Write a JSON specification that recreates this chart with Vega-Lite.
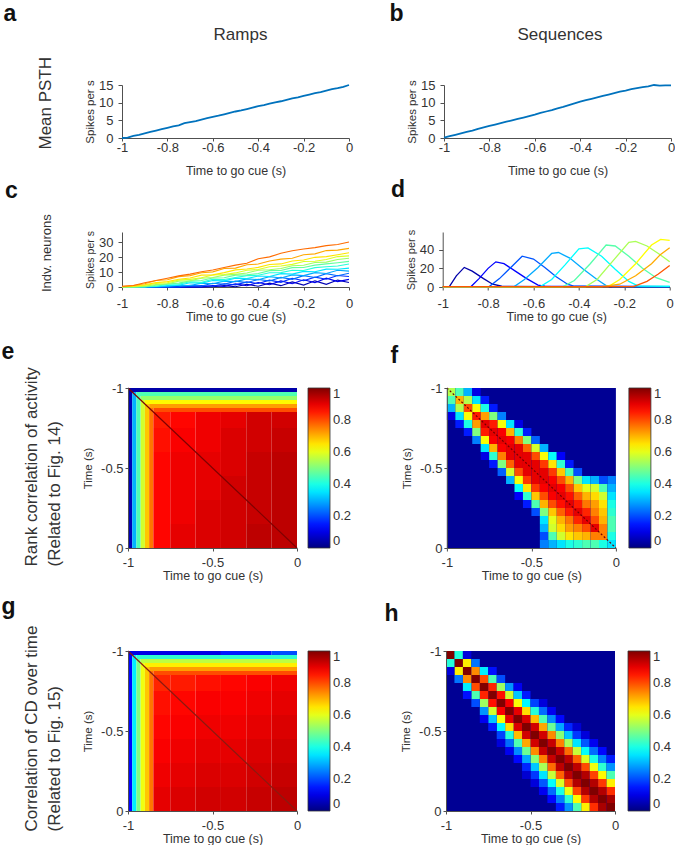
{
"$schema":"https://vega.github.io/schema/vega-lite/v6.json",
"background":"white",
"padding":{"left":1,"top":3,"right":0,"bottom":0},
"config":{"font":"Liberation Sans","view":{"stroke":null},
"axis":{"grid":false,"domainColor":"#505050","tickColor":"#505050","labelColor":"#333","titleColor":"#333","labelFontSize":13,"titleFontSize":12.5,"titleFontWeight":"normal","labelFlush":false,"labelOverlap":false,"labelFont":"Liberation Sans","titleFont":"Liberation Sans"},
"axisY":{"titleFontSize":11.5},
"title":{"font":"Liberation Sans","color":"#333","fontWeight":"normal"}},
"datasets":{
"pa":[{"t":-1,"v":0},{"t":-0.975,"v":0.1},{"t":-0.95,"v":0.6},{"t":-0.925,"v":0.9},{"t":-0.9,"v":1.3},{"t":-0.875,"v":1.7},{"t":-0.85,"v":2.1},{"t":-0.825,"v":2.5},{"t":-0.8,"v":2.9},{"t":-0.775,"v":3.3},{"t":-0.75,"v":3.6},{"t":-0.725,"v":4.2},{"t":-0.7,"v":4.5},{"t":-0.675,"v":4.8},{"t":-0.65,"v":5.2},{"t":-0.625,"v":5.6},{"t":-0.6,"v":6.0},{"t":-0.575,"v":6.3},{"t":-0.55,"v":6.7},{"t":-0.525,"v":7.1},{"t":-0.5,"v":7.5},{"t":-0.475,"v":7.8},{"t":-0.45,"v":8.2},{"t":-0.425,"v":8.6},{"t":-0.4,"v":9.0},{"t":-0.375,"v":9.3},{"t":-0.35,"v":9.7},{"t":-0.325,"v":10.1},{"t":-0.3,"v":10.4},{"t":-0.275,"v":10.8},{"t":-0.25,"v":11.2},{"t":-0.225,"v":11.5},{"t":-0.2,"v":11.9},{"t":-0.175,"v":12.3},{"t":-0.15,"v":12.7},{"t":-0.125,"v":13.0},{"t":-0.1,"v":13.4},{"t":-0.075,"v":13.8},{"t":-0.05,"v":14.1},{"t":-0.025,"v":14.5},{"t":0,"v":15.0}],
"pb":[{"t":-1,"v":0.1},{"t":-0.975,"v":0.5},{"t":-0.95,"v":0.9},{"t":-0.925,"v":1.3},{"t":-0.9,"v":1.7},{"t":-0.875,"v":2.1},{"t":-0.85,"v":2.6},{"t":-0.825,"v":3.0},{"t":-0.8,"v":3.4},{"t":-0.775,"v":3.8},{"t":-0.75,"v":4.2},{"t":-0.725,"v":4.6},{"t":-0.7,"v":5.0},{"t":-0.675,"v":5.4},{"t":-0.65,"v":5.8},{"t":-0.625,"v":6.2},{"t":-0.6,"v":6.6},{"t":-0.575,"v":7.1},{"t":-0.55,"v":7.5},{"t":-0.525,"v":7.9},{"t":-0.5,"v":8.4},{"t":-0.475,"v":8.8},{"t":-0.45,"v":9.3},{"t":-0.425,"v":9.8},{"t":-0.4,"v":10.3},{"t":-0.375,"v":10.7},{"t":-0.35,"v":11.1},{"t":-0.325,"v":11.5},{"t":-0.3,"v":11.9},{"t":-0.275,"v":12.3},{"t":-0.25,"v":12.7},{"t":-0.225,"v":13.1},{"t":-0.2,"v":13.4},{"t":-0.175,"v":13.8},{"t":-0.15,"v":14.1},{"t":-0.125,"v":14.4},{"t":-0.1,"v":14.6},{"t":-0.075,"v":15.0},{"t":-0.05,"v":14.8},{"t":-0.025,"v":14.9},{"t":0,"v":14.9}],
"pc":[
{"n":0,"t":-1,"v":0},{"n":0,"t":-0.95,"v":0},{"n":0,"t":-0.9,"v":0.1},{"n":0,"t":-0.85,"v":0},{"n":0,"t":-0.8,"v":0},{"n":0,"t":-0.75,"v":0.2},{"n":0,"t":-0.7,"v":0},{"n":0,"t":-0.65,"v":0.1},{"n":0,"t":-0.6,"v":0.2},{"n":0,"t":-0.55,"v":0.9},{"n":0,"t":-0.5,"v":0.2},{"n":0,"t":-0.45,"v":1.8},{"n":0,"t":-0.4,"v":0.5},{"n":0,"t":-0.35,"v":2.6},{"n":0,"t":-0.3,"v":0.9},{"n":0,"t":-0.25,"v":3.4},{"n":0,"t":-0.2,"v":1.3},{"n":0,"t":-0.15,"v":4.1},{"n":0,"t":-0.1,"v":1.8},{"n":0,"t":-0.05,"v":4.6},{"n":0,"t":0,"v":3.0},
{"n":1,"t":-1,"v":0},{"n":1,"t":-0.95,"v":0.1},{"n":1,"t":-0.9,"v":0},{"n":1,"t":-0.85,"v":0},{"n":1,"t":-0.8,"v":0.2},{"n":1,"t":-0.75,"v":0},{"n":1,"t":-0.7,"v":0.1},{"n":1,"t":-0.65,"v":0},{"n":1,"t":-0.6,"v":1.0},{"n":1,"t":-0.55,"v":0.3},{"n":1,"t":-0.5,"v":2.1},{"n":1,"t":-0.45,"v":0.8},{"n":1,"t":-0.4,"v":3.0},{"n":1,"t":-0.35,"v":1.5},{"n":1,"t":-0.3,"v":4.1},{"n":1,"t":-0.25,"v":2.2},{"n":1,"t":-0.2,"v":4.8},{"n":1,"t":-0.15,"v":2.9},{"n":1,"t":-0.1,"v":5.9},{"n":1,"t":-0.05,"v":3.6},{"n":1,"t":0,"v":5.1},
{"n":2,"t":-1,"v":0},{"n":2,"t":-0.95,"v":0},{"n":2,"t":-0.9,"v":0.2},{"n":2,"t":-0.85,"v":0},{"n":2,"t":-0.8,"v":0.1},{"n":2,"t":-0.75,"v":0},{"n":2,"t":-0.7,"v":0.3},{"n":2,"t":-0.65,"v":1.0},{"n":2,"t":-0.6,"v":0.5},{"n":2,"t":-0.55,"v":2.2},{"n":2,"t":-0.5,"v":1.4},{"n":2,"t":-0.45,"v":3.4},{"n":2,"t":-0.4,"v":2.3},{"n":2,"t":-0.35,"v":4.6},{"n":2,"t":-0.3,"v":3.1},{"n":2,"t":-0.25,"v":5.8},{"n":2,"t":-0.2,"v":4.2},{"n":2,"t":-0.15,"v":6.6},{"n":2,"t":-0.1,"v":5.2},{"n":2,"t":-0.05,"v":7.7},{"n":2,"t":0,"v":7.0},
{"n":3,"t":-1,"v":0},{"n":3,"t":-0.95,"v":0.1},{"n":3,"t":-0.9,"v":0},{"n":3,"t":-0.85,"v":0.3},{"n":3,"t":-0.8,"v":0},{"n":3,"t":-0.75,"v":0.2},{"n":3,"t":-0.7,"v":1.1},{"n":3,"t":-0.65,"v":0.7},{"n":3,"t":-0.6,"v":2.5},{"n":3,"t":-0.55,"v":1.8},{"n":3,"t":-0.5,"v":3.9},{"n":3,"t":-0.45,"v":2.9},{"n":3,"t":-0.4,"v":5.1},{"n":3,"t":-0.35,"v":4.0},{"n":3,"t":-0.3,"v":6.4},{"n":3,"t":-0.25,"v":5.1},{"n":3,"t":-0.2,"v":7.6},{"n":3,"t":-0.15,"v":6.3},{"n":3,"t":-0.1,"v":8.9},{"n":3,"t":-0.05,"v":7.5},{"n":3,"t":0,"v":9.2},
{"n":4,"t":-1,"v":0},{"n":4,"t":-0.95,"v":0},{"n":4,"t":-0.9,"v":0.2},{"n":4,"t":-0.85,"v":0},{"n":4,"t":-0.8,"v":0.3},{"n":4,"t":-0.75,"v":1.2},{"n":4,"t":-0.7,"v":1.0},{"n":4,"t":-0.65,"v":2.6},{"n":4,"t":-0.6,"v":2.2},{"n":4,"t":-0.55,"v":3.9},{"n":4,"t":-0.5,"v":3.6},{"n":4,"t":-0.45,"v":5.4},{"n":4,"t":-0.4,"v":4.9},{"n":4,"t":-0.35,"v":6.9},{"n":4,"t":-0.3,"v":6.0},{"n":4,"t":-0.25,"v":8.1},{"n":4,"t":-0.2,"v":7.6},{"n":4,"t":-0.15,"v":9.6},{"n":4,"t":-0.1,"v":9.0},{"n":4,"t":-0.05,"v":11.2},{"n":4,"t":0,"v":10.6},
{"n":5,"t":-1,"v":0},{"n":5,"t":-0.95,"v":0.2},{"n":5,"t":-0.9,"v":0},{"n":5,"t":-0.85,"v":0.3},{"n":5,"t":-0.8,"v":0.9},{"n":5,"t":-0.75,"v":1.2},{"n":5,"t":-0.7,"v":2.8},{"n":5,"t":-0.65,"v":2.6},{"n":5,"t":-0.6,"v":4.3},{"n":5,"t":-0.55,"v":4.1},{"n":5,"t":-0.5,"v":5.9},{"n":5,"t":-0.45,"v":5.6},{"n":5,"t":-0.4,"v":7.3},{"n":5,"t":-0.35,"v":7.0},{"n":5,"t":-0.3,"v":8.9},{"n":5,"t":-0.25,"v":8.6},{"n":5,"t":-0.2,"v":10.4},{"n":5,"t":-0.15,"v":10.2},{"n":5,"t":-0.1,"v":11.9},{"n":5,"t":-0.05,"v":11.8},{"n":5,"t":0,"v":12.6},
{"n":6,"t":-1,"v":0.1},{"n":6,"t":-0.95,"v":0},{"n":6,"t":-0.9,"v":0.3},{"n":6,"t":-0.85,"v":0.4},{"n":6,"t":-0.8,"v":1.8},{"n":6,"t":-0.75,"v":1.9},{"n":6,"t":-0.7,"v":3.5},{"n":6,"t":-0.65,"v":3.1},{"n":6,"t":-0.6,"v":5.2},{"n":6,"t":-0.55,"v":5.0},{"n":6,"t":-0.5,"v":6.3},{"n":6,"t":-0.45,"v":7.6},{"n":6,"t":-0.4,"v":7.8},{"n":6,"t":-0.35,"v":9.5},{"n":6,"t":-0.3,"v":9.6},{"n":6,"t":-0.25,"v":11.2},{"n":6,"t":-0.2,"v":11.0},{"n":6,"t":-0.15,"v":12.9},{"n":6,"t":-0.1,"v":13.5},{"n":6,"t":-0.05,"v":14.0},{"n":6,"t":0,"v":15.3},
{"n":7,"t":-1,"v":0},{"n":7,"t":-0.95,"v":0.2},{"n":7,"t":-0.9,"v":0},{"n":7,"t":-0.85,"v":1.2},{"n":7,"t":-0.8,"v":2.0},{"n":7,"t":-0.75,"v":2.6},{"n":7,"t":-0.7,"v":4.1},{"n":7,"t":-0.65,"v":4.3},{"n":7,"t":-0.6,"v":6.0},{"n":7,"t":-0.55,"v":6.2},{"n":7,"t":-0.5,"v":7.9},{"n":7,"t":-0.45,"v":8.1},{"n":7,"t":-0.4,"v":9.0},{"n":7,"t":-0.35,"v":10.9},{"n":7,"t":-0.3,"v":11.0},{"n":7,"t":-0.25,"v":12.9},{"n":7,"t":-0.2,"v":13.0},{"n":7,"t":-0.15,"v":14.6},{"n":7,"t":-0.1,"v":15.4},{"n":7,"t":-0.05,"v":16.2},{"n":7,"t":0,"v":17.1},
{"n":8,"t":-1,"v":0.2},{"n":8,"t":-0.95,"v":0},{"n":8,"t":-0.9,"v":0.6},{"n":8,"t":-0.85,"v":1.6},{"n":8,"t":-0.8,"v":2.2},{"n":8,"t":-0.75,"v":3.9},{"n":8,"t":-0.7,"v":4.2},{"n":8,"t":-0.65,"v":5.8},{"n":8,"t":-0.6,"v":6.3},{"n":8,"t":-0.55,"v":7.9},{"n":8,"t":-0.5,"v":8.4},{"n":8,"t":-0.45,"v":9.3},{"n":8,"t":-0.4,"v":11.2},{"n":8,"t":-0.35,"v":11.5},{"n":8,"t":-0.3,"v":12.3},{"n":8,"t":-0.25,"v":14.2},{"n":8,"t":-0.2,"v":14.5},{"n":8,"t":-0.15,"v":16.3},{"n":8,"t":-0.1,"v":16.6},{"n":8,"t":-0.05,"v":18.4},{"n":8,"t":0,"v":19.2},
{"n":9,"t":-1,"v":0},{"n":9,"t":-0.95,"v":0.3},{"n":9,"t":-0.9,"v":1.1},{"n":9,"t":-0.85,"v":2.3},{"n":9,"t":-0.8,"v":2.8},{"n":9,"t":-0.75,"v":4.6},{"n":9,"t":-0.7,"v":5.1},{"n":9,"t":-0.65,"v":6.2},{"n":9,"t":-0.6,"v":8.0},{"n":9,"t":-0.55,"v":8.3},{"n":9,"t":-0.5,"v":9.4},{"n":9,"t":-0.45,"v":11.2},{"n":9,"t":-0.4,"v":11.7},{"n":9,"t":-0.35,"v":13.5},{"n":9,"t":-0.3,"v":14.0},{"n":9,"t":-0.25,"v":15.1},{"n":9,"t":-0.2,"v":17.0},{"n":9,"t":-0.15,"v":17.2},{"n":9,"t":-0.1,"v":18.4},{"n":9,"t":-0.05,"v":20.3},{"n":9,"t":0,"v":20.8},
{"n":10,"t":-1,"v":0.2},{"n":10,"t":-0.95,"v":0.6},{"n":10,"t":-0.9,"v":1.5},{"n":10,"t":-0.85,"v":2.9},{"n":10,"t":-0.8,"v":3.6},{"n":10,"t":-0.75,"v":5.2},{"n":10,"t":-0.7,"v":6.0},{"n":10,"t":-0.65,"v":7.9},{"n":10,"t":-0.6,"v":8.1},{"n":10,"t":-0.55,"v":9.6},{"n":10,"t":-0.5,"v":11.4},{"n":10,"t":-0.45,"v":12.0},{"n":10,"t":-0.4,"v":13.1},{"n":10,"t":-0.35,"v":15.0},{"n":10,"t":-0.3,"v":15.4},{"n":10,"t":-0.25,"v":17.3},{"n":10,"t":-0.2,"v":18.0},{"n":10,"t":-0.15,"v":19.8},{"n":10,"t":-0.1,"v":20.3},{"n":10,"t":-0.05,"v":21.5},{"n":10,"t":0,"v":22.8},
{"n":11,"t":-1,"v":0.3},{"n":11,"t":-0.95,"v":1.0},{"n":11,"t":-0.9,"v":2.2},{"n":11,"t":-0.85,"v":4.3},{"n":11,"t":-0.8,"v":4.8},{"n":11,"t":-0.75,"v":6.9},{"n":11,"t":-0.7,"v":7.6},{"n":11,"t":-0.65,"v":9.5},{"n":11,"t":-0.6,"v":10.1},{"n":11,"t":-0.55,"v":12.3},{"n":11,"t":-0.5,"v":12.6},{"n":11,"t":-0.45,"v":14.8},{"n":11,"t":-0.4,"v":15.3},{"n":11,"t":-0.35,"v":17.4},{"n":11,"t":-0.3,"v":18.6},{"n":11,"t":-0.25,"v":19.2},{"n":11,"t":-0.2,"v":21.5},{"n":11,"t":-0.15,"v":22.1},{"n":11,"t":-0.1,"v":24.3},{"n":11,"t":-0.05,"v":24.6},{"n":11,"t":0,"v":25.8},
{"n":12,"t":-1,"v":0.5},{"n":12,"t":-0.95,"v":1.0},{"n":12,"t":-0.9,"v":2.8},{"n":12,"t":-0.85,"v":4.3},{"n":12,"t":-0.8,"v":5.8},{"n":12,"t":-0.75,"v":7.4},{"n":12,"t":-0.7,"v":8.6},{"n":12,"t":-0.65,"v":10.2},{"n":12,"t":-0.6,"v":11.3},{"n":12,"t":-0.55,"v":13.0},{"n":12,"t":-0.5,"v":14.6},{"n":12,"t":-0.45,"v":15.8},{"n":12,"t":-0.4,"v":18.9},{"n":12,"t":-0.35,"v":20.1},{"n":12,"t":-0.3,"v":22.5},{"n":12,"t":-0.25,"v":24.2},{"n":12,"t":-0.2,"v":25.4},{"n":12,"t":-0.15,"v":26.3},{"n":12,"t":-0.1,"v":27.6},{"n":12,"t":-0.05,"v":28.4},{"n":12,"t":0,"v":30.0}],
"pd":[
{"n":1,"t":-1,"v":0.5},{"n":1,"t":-0.97,"v":0.6},{"n":1,"t":-0.94,"v":12},{"n":1,"t":-0.905,"v":21},{"n":1,"t":-0.87,"v":17},{"n":1,"t":-0.82,"v":9},{"n":1,"t":-0.78,"v":3},{"n":1,"t":-0.74,"v":0.8},{"n":1,"t":-0.5,"v":0.3},{"n":1,"t":0,"v":0.5},
{"n":2,"t":-1,"v":0.4},{"n":2,"t":-0.875,"v":0.5},{"n":2,"t":-0.84,"v":9},{"n":2,"t":-0.8,"v":20},{"n":2,"t":-0.766,"v":27},{"n":2,"t":-0.73,"v":25},{"n":2,"t":-0.68,"v":17},{"n":2,"t":-0.63,"v":9},{"n":2,"t":-0.58,"v":2},{"n":2,"t":-0.55,"v":0.8},{"n":2,"t":0,"v":0.4},
{"n":3,"t":-1,"v":0.5},{"n":3,"t":-0.795,"v":0.5},{"n":3,"t":-0.75,"v":9},{"n":3,"t":-0.7,"v":21},{"n":3,"t":-0.65,"v":33},{"n":3,"t":-0.6,"v":30},{"n":3,"t":-0.55,"v":21},{"n":3,"t":-0.5,"v":11},{"n":3,"t":-0.45,"v":3},{"n":3,"t":-0.42,"v":0.8},{"n":3,"t":0,"v":0.5},
{"n":4,"t":-1,"v":0.3},{"n":4,"t":-0.685,"v":0.5},{"n":4,"t":-0.64,"v":8},{"n":4,"t":-0.58,"v":21},{"n":4,"t":-0.52,"v":36},{"n":4,"t":-0.49,"v":37},{"n":4,"t":-0.44,"v":31},{"n":4,"t":-0.38,"v":19},{"n":4,"t":-0.32,"v":8},{"n":4,"t":-0.28,"v":1.5},{"n":4,"t":-0.25,"v":0.5},{"n":4,"t":0,"v":0.5},
{"n":5,"t":-1,"v":0.3},{"n":5,"t":-0.57,"v":0.5},{"n":5,"t":-0.52,"v":8},{"n":5,"t":-0.46,"v":24},{"n":5,"t":-0.4,"v":41},{"n":5,"t":-0.36,"v":42},{"n":5,"t":-0.3,"v":33},{"n":5,"t":-0.24,"v":19},{"n":5,"t":-0.18,"v":6},{"n":5,"t":-0.14,"v":1.2},{"n":5,"t":0,"v":0.8},
{"n":6,"t":-1,"v":0.3},{"n":6,"t":-0.47,"v":0.5},{"n":6,"t":-0.42,"v":7},{"n":6,"t":-0.35,"v":25},{"n":6,"t":-0.28,"v":45},{"n":6,"t":-0.24,"v":44},{"n":6,"t":-0.18,"v":33},{"n":6,"t":-0.12,"v":20},{"n":6,"t":-0.06,"v":10},{"n":6,"t":0,"v":5},
{"n":7,"t":-1,"v":0.3},{"n":7,"t":-0.37,"v":0.5},{"n":7,"t":-0.32,"v":8},{"n":7,"t":-0.25,"v":28},{"n":7,"t":-0.18,"v":48},{"n":7,"t":-0.15,"v":49},{"n":7,"t":-0.1,"v":44},{"n":7,"t":-0.05,"v":36},{"n":7,"t":0,"v":27},
{"n":8,"t":-1,"v":0.3},{"n":8,"t":-0.27,"v":0.5},{"n":8,"t":-0.22,"v":8},{"n":8,"t":-0.15,"v":25},{"n":8,"t":-0.08,"v":45},{"n":8,"t":-0.04,"v":51},{"n":8,"t":0,"v":50},
{"n":9,"t":-1,"v":0.3},{"n":9,"t":-0.3,"v":0.5},{"n":9,"t":-0.22,"v":3},{"n":9,"t":-0.15,"v":12},{"n":9,"t":-0.08,"v":25},{"n":9,"t":-0.04,"v":35},{"n":9,"t":0,"v":42},
{"n":10,"t":-1,"v":0.3},{"n":10,"t":-0.16,"v":0.5},{"n":10,"t":-0.1,"v":6},{"n":10,"t":-0.05,"v":14},{"n":10,"t":0,"v":23}],
"diag":[{"x":-1,"y":-1},{"x":0,"y":0}],
"he":[
{"x":-1,"x2":0,"y":-1,"y2":-0.975,"v":0.04},{"x":-1,"x2":-0.975,"y":-0.975,"y2":0,"v":0.05},{"x":-0.975,"x2":-0.95,"y":-0.975,"y2":0,"v":0.3},{"x":-0.95,"x2":0,"y":-0.975,"y2":-0.95,"v":0.45},{"x":-0.95,"x2":-0.925,"y":-0.95,"y2":0,"v":0.45},{"x":-0.925,"x2":0,"y":-0.95,"y2":-0.925,"v":0.52},{"x":-0.925,"x2":-0.9,"y":-0.925,"y2":0,"v":0.58},{"x":-0.9,"x2":0,"y":-0.925,"y2":-0.9,"v":0.63},{"x":-0.9,"x2":-0.875,"y":-0.9,"y2":0,"v":0.68},{"x":-0.875,"x2":0,"y":-0.9,"y2":-0.875,"v":0.72},{"x":-0.875,"x2":-0.85,"y":-0.875,"y2":0,"v":0.76},{"x":-0.85,"x2":0,"y":-0.875,"y2":-0.85,"v":0.8},
{"x":-0.85,"x2":-0.75,"y":-0.85,"y2":-0.75,"v":0.85},{"x":-0.75,"x2":-0.6,"y":-0.85,"y2":-0.75,"v":0.87},{"x":-0.6,"x2":-0.45,"y":-0.85,"y2":-0.75,"v":0.89},{"x":-0.45,"x2":-0.3,"y":-0.85,"y2":-0.75,"v":0.9},{"x":-0.3,"x2":-0.15,"y":-0.85,"y2":-0.75,"v":0.92},{"x":-0.15,"x2":0,"y":-0.85,"y2":-0.75,"v":0.92},
{"x":-0.85,"x2":-0.75,"y":-0.75,"y2":-0.6,"v":0.86},{"x":-0.75,"x2":-0.6,"y":-0.75,"y2":-0.6,"v":0.88},{"x":-0.6,"x2":-0.45,"y":-0.75,"y2":-0.6,"v":0.89},{"x":-0.45,"x2":-0.3,"y":-0.75,"y2":-0.6,"v":0.91},{"x":-0.3,"x2":-0.15,"y":-0.75,"y2":-0.6,"v":0.92},{"x":-0.15,"x2":0,"y":-0.75,"y2":-0.6,"v":0.93},
{"x":-0.85,"x2":-0.75,"y":-0.6,"y2":-0.45,"v":0.87},{"x":-0.75,"x2":-0.6,"y":-0.6,"y2":-0.45,"v":0.89},{"x":-0.6,"x2":-0.45,"y":-0.6,"y2":-0.45,"v":0.9},{"x":-0.45,"x2":-0.3,"y":-0.6,"y2":-0.45,"v":0.91},{"x":-0.3,"x2":-0.15,"y":-0.6,"y2":-0.45,"v":0.93},{"x":-0.15,"x2":0,"y":-0.6,"y2":-0.45,"v":0.94},
{"x":-0.85,"x2":-0.75,"y":-0.45,"y2":-0.3,"v":0.87},{"x":-0.75,"x2":-0.6,"y":-0.45,"y2":-0.3,"v":0.89},{"x":-0.6,"x2":-0.45,"y":-0.45,"y2":-0.3,"v":0.9},{"x":-0.45,"x2":-0.3,"y":-0.45,"y2":-0.3,"v":0.92},{"x":-0.3,"x2":-0.15,"y":-0.45,"y2":-0.3,"v":0.93},{"x":-0.15,"x2":0,"y":-0.45,"y2":-0.3,"v":0.94},
{"x":-0.85,"x2":-0.75,"y":-0.3,"y2":-0.15,"v":0.87},{"x":-0.75,"x2":-0.6,"y":-0.3,"y2":-0.15,"v":0.89},{"x":-0.6,"x2":-0.45,"y":-0.3,"y2":-0.15,"v":0.91},{"x":-0.45,"x2":-0.3,"y":-0.3,"y2":-0.15,"v":0.92},{"x":-0.3,"x2":-0.15,"y":-0.3,"y2":-0.15,"v":0.93},{"x":-0.15,"x2":0,"y":-0.3,"y2":-0.15,"v":0.94},
{"x":-0.85,"x2":-0.75,"y":-0.15,"y2":0,"v":0.87},{"x":-0.75,"x2":-0.6,"y":-0.15,"y2":0,"v":0.9},{"x":-0.6,"x2":-0.45,"y":-0.15,"y2":0,"v":0.91},{"x":-0.45,"x2":-0.3,"y":-0.15,"y2":0,"v":0.92},{"x":-0.3,"x2":-0.15,"y":-0.15,"y2":0,"v":0.94},{"x":-0.15,"x2":0,"y":-0.15,"y2":0,"v":0.94}],
"hg":[
{"x":-1,"x2":-0.45,"y":-1,"y2":-0.975,"v":0.1},{"x":-0.45,"x2":-0.15,"y":-1,"y2":-0.975,"v":0.15},{"x":-0.15,"x2":0,"y":-1,"y2":-0.975,"v":0.2},{"x":-1,"x2":-0.975,"y":-0.975,"y2":0,"v":0.13},{"x":-0.975,"x2":-0.95,"y":-0.975,"y2":0,"v":0.36},{"x":-0.95,"x2":0,"y":-0.975,"y2":-0.95,"v":0.42},{"x":-0.95,"x2":-0.925,"y":-0.95,"y2":0,"v":0.5},{"x":-0.925,"x2":0,"y":-0.95,"y2":-0.925,"v":0.56},{"x":-0.925,"x2":-0.9,"y":-0.925,"y2":0,"v":0.61},{"x":-0.9,"x2":0,"y":-0.925,"y2":-0.9,"v":0.64},{"x":-0.9,"x2":-0.875,"y":-0.9,"y2":0,"v":0.68},{"x":-0.875,"x2":0,"y":-0.9,"y2":-0.875,"v":0.72},{"x":-0.875,"x2":-0.85,"y":-0.875,"y2":0,"v":0.76},{"x":-0.85,"x2":0,"y":-0.875,"y2":-0.85,"v":0.8},
{"x":-0.85,"x2":-0.75,"y":-0.85,"y2":-0.75,"v":0.84},{"x":-0.75,"x2":-0.6,"y":-0.85,"y2":-0.75,"v":0.85},{"x":-0.6,"x2":-0.45,"y":-0.85,"y2":-0.75,"v":0.86},{"x":-0.45,"x2":-0.3,"y":-0.85,"y2":-0.75,"v":0.87},{"x":-0.3,"x2":-0.15,"y":-0.85,"y2":-0.75,"v":0.88},{"x":-0.15,"x2":0,"y":-0.85,"y2":-0.75,"v":0.89},
{"x":-0.85,"x2":-0.75,"y":-0.75,"y2":-0.6,"v":0.86},{"x":-0.75,"x2":-0.6,"y":-0.75,"y2":-0.6,"v":0.87},{"x":-0.6,"x2":-0.45,"y":-0.75,"y2":-0.6,"v":0.88},{"x":-0.45,"x2":-0.3,"y":-0.75,"y2":-0.6,"v":0.88},{"x":-0.3,"x2":-0.15,"y":-0.75,"y2":-0.6,"v":0.89},{"x":-0.15,"x2":0,"y":-0.75,"y2":-0.6,"v":0.9},
{"x":-0.85,"x2":-0.75,"y":-0.6,"y2":-0.45,"v":0.87},{"x":-0.75,"x2":-0.6,"y":-0.6,"y2":-0.45,"v":0.88},{"x":-0.6,"x2":-0.45,"y":-0.6,"y2":-0.45,"v":0.89},{"x":-0.45,"x2":-0.3,"y":-0.6,"y2":-0.45,"v":0.89},{"x":-0.3,"x2":-0.15,"y":-0.6,"y2":-0.45,"v":0.9},{"x":-0.15,"x2":0,"y":-0.6,"y2":-0.45,"v":0.91},
{"x":-0.85,"x2":-0.75,"y":-0.45,"y2":-0.3,"v":0.88},{"x":-0.75,"x2":-0.6,"y":-0.45,"y2":-0.3,"v":0.89},{"x":-0.6,"x2":-0.45,"y":-0.45,"y2":-0.3,"v":0.9},{"x":-0.45,"x2":-0.3,"y":-0.45,"y2":-0.3,"v":0.9},{"x":-0.3,"x2":-0.15,"y":-0.45,"y2":-0.3,"v":0.91},{"x":-0.15,"x2":0,"y":-0.45,"y2":-0.3,"v":0.92},
{"x":-0.85,"x2":-0.75,"y":-0.3,"y2":-0.15,"v":0.89},{"x":-0.75,"x2":-0.6,"y":-0.3,"y2":-0.15,"v":0.9},{"x":-0.6,"x2":-0.45,"y":-0.3,"y2":-0.15,"v":0.91},{"x":-0.45,"x2":-0.3,"y":-0.3,"y2":-0.15,"v":0.91},{"x":-0.3,"x2":-0.15,"y":-0.3,"y2":-0.15,"v":0.92},{"x":-0.15,"x2":0,"y":-0.3,"y2":-0.15,"v":0.93},
{"x":-0.85,"x2":-0.75,"y":-0.15,"y2":0,"v":0.9},{"x":-0.75,"x2":-0.6,"y":-0.15,"y2":0,"v":0.91},{"x":-0.6,"x2":-0.45,"y":-0.15,"y2":0,"v":0.92},{"x":-0.45,"x2":-0.3,"y":-0.15,"y2":0,"v":0.92},{"x":-0.3,"x2":-0.15,"y":-0.15,"y2":0,"v":0.93},{"x":-0.15,"x2":0,"y":-0.15,"y2":0,"v":0.94}],
"hf":[
{"x":-1,"x2":0,"y":-1,"y2":0,"v":0.02},
{"x":-1,"x2":-0.95,"y":-1,"y2":-0.95,"v":0.55},{"x":-0.95,"x2":-0.9,"y":-0.95,"y2":-0.9,"v":0.7},{"x":-0.9,"x2":-0.85,"y":-0.9,"y2":-0.85,"v":0.8},{"x":-0.85,"x2":-0.8,"y":-0.85,"y2":-0.8,"v":0.85},{"x":-0.8,"x2":-0.75,"y":-0.8,"y2":-0.75,"v":0.9},{"x":-0.75,"x2":-0.7,"y":-0.75,"y2":-0.7,"v":0.9},{"x":-0.7,"x2":-0.65,"y":-0.7,"y2":-0.65,"v":0.9},{"x":-0.65,"x2":-0.6,"y":-0.65,"y2":-0.6,"v":0.9},{"x":-0.6,"x2":-0.55,"y":-0.6,"y2":-0.55,"v":0.9},{"x":-0.55,"x2":-0.5,"y":-0.55,"y2":-0.5,"v":0.9},{"x":-0.5,"x2":-0.45,"y":-0.5,"y2":-0.45,"v":0.9},{"x":-0.45,"x2":-0.4,"y":-0.45,"y2":-0.4,"v":0.9},{"x":-0.4,"x2":-0.35,"y":-0.4,"y2":-0.35,"v":0.9},{"x":-0.35,"x2":-0.3,"y":-0.35,"y2":-0.3,"v":0.9},{"x":-0.3,"x2":-0.25,"y":-0.3,"y2":-0.25,"v":0.9},{"x":-0.25,"x2":-0.2,"y":-0.25,"y2":-0.2,"v":0.9},{"x":-0.2,"x2":-0.15,"y":-0.2,"y2":-0.15,"v":0.9},{"x":-0.15,"x2":-0.1,"y":-0.15,"y2":-0.1,"v":0.9},{"x":-0.1,"x2":-0.05,"y":-0.1,"y2":-0.05,"v":0.75},{"x":-0.05,"x2":0,"y":-0.05,"y2":0,"v":0.35},
{"x":-0.95,"x2":-0.9,"y":-1,"y2":-0.95,"v":0.45},{"x":-1,"x2":-0.95,"y":-0.95,"y2":-0.9,"v":0.45},
{"x":-0.9,"x2":-0.85,"y":-1,"y2":-0.95,"v":0.3},{"x":-1,"x2":-0.95,"y":-0.9,"y2":-0.85,"v":0.3},
{"x":-0.85,"x2":-0.8,"y":-1,"y2":-0.95,"v":0.1},{"x":-1,"x2":-0.95,"y":-0.85,"y2":-0.8,"v":0.1},
{"x":-0.9,"x2":-0.85,"y":-0.95,"y2":-0.9,"v":0.55},{"x":-0.95,"x2":-0.9,"y":-0.9,"y2":-0.85,"v":0.55},
{"x":-0.85,"x2":-0.8,"y":-0.95,"y2":-0.9,"v":0.35},{"x":-0.95,"x2":-0.9,"y":-0.85,"y2":-0.8,"v":0.35},
{"x":-0.8,"x2":-0.75,"y":-0.95,"y2":-0.9,"v":0.15},{"x":-0.95,"x2":-0.9,"y":-0.8,"y2":-0.75,"v":0.15},
{"x":-0.85,"x2":-0.8,"y":-0.9,"y2":-0.85,"v":0.62},{"x":-0.9,"x2":-0.85,"y":-0.85,"y2":-0.8,"v":0.62},
{"x":-0.8,"x2":-0.75,"y":-0.9,"y2":-0.85,"v":0.4},{"x":-0.9,"x2":-0.85,"y":-0.8,"y2":-0.75,"v":0.4},
{"x":-0.75,"x2":-0.7,"y":-0.9,"y2":-0.85,"v":0.15},{"x":-0.9,"x2":-0.85,"y":-0.75,"y2":-0.7,"v":0.15},
{"x":-0.8,"x2":-0.75,"y":-0.85,"y2":-0.8,"v":0.72},{"x":-0.85,"x2":-0.8,"y":-0.8,"y2":-0.75,"v":0.72},
{"x":-0.75,"x2":-0.7,"y":-0.85,"y2":-0.8,"v":0.5},{"x":-0.85,"x2":-0.8,"y":-0.75,"y2":-0.7,"v":0.5},
{"x":-0.7,"x2":-0.65,"y":-0.85,"y2":-0.8,"v":0.25},{"x":-0.85,"x2":-0.8,"y":-0.7,"y2":-0.65,"v":0.25},
{"x":-0.75,"x2":-0.7,"y":-0.8,"y2":-0.75,"v":0.85},{"x":-0.8,"x2":-0.75,"y":-0.75,"y2":-0.7,"v":0.85},
{"x":-0.7,"x2":-0.65,"y":-0.8,"y2":-0.75,"v":0.62},{"x":-0.8,"x2":-0.75,"y":-0.7,"y2":-0.65,"v":0.62},
{"x":-0.65,"x2":-0.6,"y":-0.8,"y2":-0.75,"v":0.35},{"x":-0.8,"x2":-0.75,"y":-0.65,"y2":-0.6,"v":0.35},
{"x":-0.6,"x2":-0.55,"y":-0.8,"y2":-0.75,"v":0.1},{"x":-0.8,"x2":-0.75,"y":-0.6,"y2":-0.55,"v":0.1},
{"x":-0.7,"x2":-0.65,"y":-0.75,"y2":-0.7,"v":0.88},{"x":-0.75,"x2":-0.7,"y":-0.7,"y2":-0.65,"v":0.88},
{"x":-0.65,"x2":-0.6,"y":-0.75,"y2":-0.7,"v":0.7},{"x":-0.75,"x2":-0.7,"y":-0.65,"y2":-0.6,"v":0.7},
{"x":-0.6,"x2":-0.55,"y":-0.75,"y2":-0.7,"v":0.42},{"x":-0.75,"x2":-0.7,"y":-0.6,"y2":-0.55,"v":0.42},
{"x":-0.55,"x2":-0.5,"y":-0.75,"y2":-0.7,"v":0.15},{"x":-0.75,"x2":-0.7,"y":-0.55,"y2":-0.5,"v":0.15},
{"x":-0.65,"x2":-0.6,"y":-0.7,"y2":-0.65,"v":0.88},{"x":-0.7,"x2":-0.65,"y":-0.65,"y2":-0.6,"v":0.88},
{"x":-0.6,"x2":-0.55,"y":-0.7,"y2":-0.65,"v":0.75},{"x":-0.7,"x2":-0.65,"y":-0.6,"y2":-0.55,"v":0.75},
{"x":-0.55,"x2":-0.5,"y":-0.7,"y2":-0.65,"v":0.5},{"x":-0.7,"x2":-0.65,"y":-0.55,"y2":-0.5,"v":0.5},
{"x":-0.5,"x2":-0.45,"y":-0.7,"y2":-0.65,"v":0.22},{"x":-0.7,"x2":-0.65,"y":-0.5,"y2":-0.45,"v":0.22},
{"x":-0.6,"x2":-0.55,"y":-0.65,"y2":-0.6,"v":0.9},{"x":-0.65,"x2":-0.6,"y":-0.6,"y2":-0.55,"v":0.9},
{"x":-0.55,"x2":-0.5,"y":-0.65,"y2":-0.6,"v":0.78},{"x":-0.65,"x2":-0.6,"y":-0.55,"y2":-0.5,"v":0.78},
{"x":-0.5,"x2":-0.45,"y":-0.65,"y2":-0.6,"v":0.58},{"x":-0.65,"x2":-0.6,"y":-0.5,"y2":-0.45,"v":0.58},
{"x":-0.45,"x2":-0.4,"y":-0.65,"y2":-0.6,"v":0.3},{"x":-0.65,"x2":-0.6,"y":-0.45,"y2":-0.4,"v":0.3},
{"x":-0.55,"x2":-0.5,"y":-0.6,"y2":-0.55,"v":0.9},{"x":-0.6,"x2":-0.55,"y":-0.55,"y2":-0.5,"v":0.9},
{"x":-0.5,"x2":-0.45,"y":-0.6,"y2":-0.55,"v":0.8},{"x":-0.6,"x2":-0.55,"y":-0.5,"y2":-0.45,"v":0.8},
{"x":-0.45,"x2":-0.4,"y":-0.6,"y2":-0.55,"v":0.62},{"x":-0.6,"x2":-0.55,"y":-0.45,"y2":-0.4,"v":0.62},
{"x":-0.4,"x2":-0.35,"y":-0.6,"y2":-0.55,"v":0.38},{"x":-0.6,"x2":-0.55,"y":-0.4,"y2":-0.35,"v":0.38},
{"x":-0.35,"x2":-0.3,"y":-0.6,"y2":-0.55,"v":0.12},{"x":-0.6,"x2":-0.55,"y":-0.35,"y2":-0.3,"v":0.12},
{"x":-0.5,"x2":-0.45,"y":-0.55,"y2":-0.5,"v":0.9},{"x":-0.55,"x2":-0.5,"y":-0.5,"y2":-0.45,"v":0.9},
{"x":-0.45,"x2":-0.4,"y":-0.55,"y2":-0.5,"v":0.82},{"x":-0.55,"x2":-0.5,"y":-0.45,"y2":-0.4,"v":0.82},
{"x":-0.4,"x2":-0.35,"y":-0.55,"y2":-0.5,"v":0.65},{"x":-0.55,"x2":-0.5,"y":-0.4,"y2":-0.35,"v":0.65},
{"x":-0.35,"x2":-0.3,"y":-0.55,"y2":-0.5,"v":0.42},{"x":-0.55,"x2":-0.5,"y":-0.35,"y2":-0.3,"v":0.42},
{"x":-0.3,"x2":-0.25,"y":-0.55,"y2":-0.5,"v":0.15},{"x":-0.55,"x2":-0.5,"y":-0.3,"y2":-0.25,"v":0.15},
{"x":-0.45,"x2":-0.4,"y":-0.5,"y2":-0.45,"v":0.9},{"x":-0.5,"x2":-0.45,"y":-0.45,"y2":-0.4,"v":0.9},
{"x":-0.4,"x2":-0.35,"y":-0.5,"y2":-0.45,"v":0.82},{"x":-0.5,"x2":-0.45,"y":-0.4,"y2":-0.35,"v":0.82},
{"x":-0.35,"x2":-0.3,"y":-0.5,"y2":-0.45,"v":0.68},{"x":-0.5,"x2":-0.45,"y":-0.35,"y2":-0.3,"v":0.68},
{"x":-0.3,"x2":-0.25,"y":-0.5,"y2":-0.45,"v":0.45},{"x":-0.5,"x2":-0.45,"y":-0.3,"y2":-0.25,"v":0.45},
{"x":-0.25,"x2":-0.2,"y":-0.5,"y2":-0.45,"v":0.2},{"x":-0.5,"x2":-0.45,"y":-0.25,"y2":-0.2,"v":0.2},
{"x":-0.4,"x2":-0.35,"y":-0.45,"y2":-0.4,"v":0.88},{"x":-0.45,"x2":-0.4,"y":-0.4,"y2":-0.35,"v":0.88},
{"x":-0.35,"x2":-0.3,"y":-0.45,"y2":-0.4,"v":0.8},{"x":-0.45,"x2":-0.4,"y":-0.35,"y2":-0.3,"v":0.8},
{"x":-0.3,"x2":-0.25,"y":-0.45,"y2":-0.4,"v":0.7},{"x":-0.45,"x2":-0.4,"y":-0.3,"y2":-0.25,"v":0.7},
{"x":-0.25,"x2":-0.2,"y":-0.45,"y2":-0.4,"v":0.5},{"x":-0.45,"x2":-0.4,"y":-0.25,"y2":-0.2,"v":0.5},
{"x":-0.2,"x2":-0.15,"y":-0.45,"y2":-0.4,"v":0.35},{"x":-0.45,"x2":-0.4,"y":-0.2,"y2":-0.15,"v":0.35},
{"x":-0.15,"x2":-0.1,"y":-0.45,"y2":-0.4,"v":0.3},{"x":-0.45,"x2":-0.4,"y":-0.15,"y2":-0.1,"v":0.3},
{"x":-0.1,"x2":-0.05,"y":-0.45,"y2":-0.4,"v":0.2},{"x":-0.45,"x2":-0.4,"y":-0.1,"y2":-0.05,"v":0.2},
{"x":-0.05,"x2":0,"y":-0.45,"y2":-0.4,"v":0.25},{"x":-0.45,"x2":-0.4,"y":-0.05,"y2":0,"v":0.25},
{"x":-0.35,"x2":-0.3,"y":-0.4,"y2":-0.35,"v":0.88},{"x":-0.4,"x2":-0.35,"y":-0.35,"y2":-0.3,"v":0.88},
{"x":-0.3,"x2":-0.25,"y":-0.4,"y2":-0.35,"v":0.8},{"x":-0.4,"x2":-0.35,"y":-0.3,"y2":-0.25,"v":0.8},
{"x":-0.25,"x2":-0.2,"y":-0.4,"y2":-0.35,"v":0.68},{"x":-0.4,"x2":-0.35,"y":-0.25,"y2":-0.2,"v":0.68},
{"x":-0.2,"x2":-0.15,"y":-0.4,"y2":-0.35,"v":0.6},{"x":-0.4,"x2":-0.35,"y":-0.2,"y2":-0.15,"v":0.6},
{"x":-0.15,"x2":-0.1,"y":-0.4,"y2":-0.35,"v":0.58},{"x":-0.4,"x2":-0.35,"y":-0.15,"y2":-0.1,"v":0.58},
{"x":-0.1,"x2":-0.05,"y":-0.4,"y2":-0.35,"v":0.45},{"x":-0.4,"x2":-0.35,"y":-0.1,"y2":-0.05,"v":0.45},
{"x":-0.05,"x2":0,"y":-0.4,"y2":-0.35,"v":0.3},{"x":-0.4,"x2":-0.35,"y":-0.05,"y2":0,"v":0.3},
{"x":-0.3,"x2":-0.25,"y":-0.35,"y2":-0.3,"v":0.86},{"x":-0.35,"x2":-0.3,"y":-0.3,"y2":-0.25,"v":0.86},
{"x":-0.25,"x2":-0.2,"y":-0.35,"y2":-0.3,"v":0.78},{"x":-0.35,"x2":-0.3,"y":-0.25,"y2":-0.2,"v":0.78},
{"x":-0.2,"x2":-0.15,"y":-0.35,"y2":-0.3,"v":0.7},{"x":-0.35,"x2":-0.3,"y":-0.2,"y2":-0.15,"v":0.7},
{"x":-0.15,"x2":-0.1,"y":-0.35,"y2":-0.3,"v":0.66},{"x":-0.35,"x2":-0.3,"y":-0.15,"y2":-0.1,"v":0.66},
{"x":-0.1,"x2":-0.05,"y":-0.35,"y2":-0.3,"v":0.58},{"x":-0.35,"x2":-0.3,"y":-0.1,"y2":-0.05,"v":0.58},
{"x":-0.05,"x2":0,"y":-0.35,"y2":-0.3,"v":0.35},{"x":-0.35,"x2":-0.3,"y":-0.05,"y2":0,"v":0.35},
{"x":-0.25,"x2":-0.2,"y":-0.3,"y2":-0.25,"v":0.85},{"x":-0.3,"x2":-0.25,"y":-0.25,"y2":-0.2,"v":0.85},
{"x":-0.2,"x2":-0.15,"y":-0.3,"y2":-0.25,"v":0.76},{"x":-0.3,"x2":-0.25,"y":-0.2,"y2":-0.15,"v":0.76},
{"x":-0.15,"x2":-0.1,"y":-0.3,"y2":-0.25,"v":0.72},{"x":-0.3,"x2":-0.25,"y":-0.15,"y2":-0.1,"v":0.72},
{"x":-0.1,"x2":-0.05,"y":-0.3,"y2":-0.25,"v":0.65},{"x":-0.3,"x2":-0.25,"y":-0.1,"y2":-0.05,"v":0.65},
{"x":-0.05,"x2":0,"y":-0.3,"y2":-0.25,"v":0.4},{"x":-0.3,"x2":-0.25,"y":-0.05,"y2":0,"v":0.4},
{"x":-0.2,"x2":-0.15,"y":-0.25,"y2":-0.2,"v":0.84},{"x":-0.25,"x2":-0.2,"y":-0.2,"y2":-0.15,"v":0.84},
{"x":-0.15,"x2":-0.1,"y":-0.25,"y2":-0.2,"v":0.75},{"x":-0.25,"x2":-0.2,"y":-0.15,"y2":-0.1,"v":0.75},
{"x":-0.1,"x2":-0.05,"y":-0.25,"y2":-0.2,"v":0.68},{"x":-0.25,"x2":-0.2,"y":-0.1,"y2":-0.05,"v":0.68},
{"x":-0.05,"x2":0,"y":-0.25,"y2":-0.2,"v":0.42},{"x":-0.25,"x2":-0.2,"y":-0.05,"y2":0,"v":0.42},
{"x":-0.15,"x2":-0.1,"y":-0.2,"y2":-0.15,"v":0.8},{"x":-0.2,"x2":-0.15,"y":-0.15,"y2":-0.1,"v":0.8},
{"x":-0.1,"x2":-0.05,"y":-0.2,"y2":-0.15,"v":0.7},{"x":-0.2,"x2":-0.15,"y":-0.1,"y2":-0.05,"v":0.7},
{"x":-0.05,"x2":0,"y":-0.2,"y2":-0.15,"v":0.45},{"x":-0.2,"x2":-0.15,"y":-0.05,"y2":0,"v":0.45},
{"x":-0.1,"x2":-0.05,"y":-0.15,"y2":-0.1,"v":0.75},{"x":-0.15,"x2":-0.1,"y":-0.1,"y2":-0.05,"v":0.75},
{"x":-0.05,"x2":0,"y":-0.15,"y2":-0.1,"v":0.45},{"x":-0.15,"x2":-0.1,"y":-0.05,"y2":0,"v":0.45},
{"x":-0.05,"x2":0,"y":-0.1,"y2":-0.05,"v":0.4},{"x":-0.1,"x2":-0.05,"y":-0.05,"y2":0,"v":0.4}],
"hh":[
{"x":-1,"x2":0,"y":-1,"y2":0,"v":0.02},
{"x":-1,"x2":-0.95,"y":-1,"y2":-0.95,"v":1},{"x":-0.95,"x2":-0.9,"y":-0.95,"y2":-0.9,"v":1},{"x":-0.9,"x2":-0.85,"y":-0.9,"y2":-0.85,"v":1},{"x":-0.85,"x2":-0.8,"y":-0.85,"y2":-0.8,"v":1},{"x":-0.8,"x2":-0.75,"y":-0.8,"y2":-0.75,"v":1},{"x":-0.75,"x2":-0.7,"y":-0.75,"y2":-0.7,"v":1},{"x":-0.7,"x2":-0.65,"y":-0.7,"y2":-0.65,"v":1},{"x":-0.65,"x2":-0.6,"y":-0.65,"y2":-0.6,"v":1},{"x":-0.6,"x2":-0.55,"y":-0.6,"y2":-0.55,"v":1},{"x":-0.55,"x2":-0.5,"y":-0.55,"y2":-0.5,"v":1},{"x":-0.5,"x2":-0.45,"y":-0.5,"y2":-0.45,"v":1},{"x":-0.45,"x2":-0.4,"y":-0.45,"y2":-0.4,"v":1},{"x":-0.4,"x2":-0.35,"y":-0.4,"y2":-0.35,"v":1},{"x":-0.35,"x2":-0.3,"y":-0.35,"y2":-0.3,"v":1},{"x":-0.3,"x2":-0.25,"y":-0.3,"y2":-0.25,"v":1},{"x":-0.25,"x2":-0.2,"y":-0.25,"y2":-0.2,"v":1},{"x":-0.2,"x2":-0.15,"y":-0.2,"y2":-0.15,"v":1},{"x":-0.15,"x2":-0.1,"y":-0.15,"y2":-0.1,"v":1},{"x":-0.1,"x2":-0.05,"y":-0.1,"y2":-0.05,"v":1},{"x":-0.05,"x2":0,"y":-0.05,"y2":0,"v":1},
{"x":-0.95,"x2":-0.9,"y":-1,"y2":-0.95,"v":0.41},{"x":-1,"x2":-0.95,"y":-0.95,"y2":-0.9,"v":0.41},
{"x":-0.9,"x2":-0.85,"y":-0.95,"y2":-0.9,"v":0.64},{"x":-0.95,"x2":-0.9,"y":-0.9,"y2":-0.85,"v":0.64},
{"x":-0.85,"x2":-0.8,"y":-0.9,"y2":-0.85,"v":0.74},{"x":-0.9,"x2":-0.85,"y":-0.85,"y2":-0.8,"v":0.74},
{"x":-0.8,"x2":-0.75,"y":-0.85,"y2":-0.8,"v":0.8},{"x":-0.85,"x2":-0.8,"y":-0.8,"y2":-0.75,"v":0.8},
{"x":-0.75,"x2":-0.7,"y":-0.8,"y2":-0.75,"v":0.84},{"x":-0.8,"x2":-0.75,"y":-0.75,"y2":-0.7,"v":0.84},
{"x":-0.7,"x2":-0.65,"y":-0.75,"y2":-0.7,"v":0.86},{"x":-0.75,"x2":-0.7,"y":-0.7,"y2":-0.65,"v":0.86},
{"x":-0.65,"x2":-0.6,"y":-0.7,"y2":-0.65,"v":0.88},{"x":-0.7,"x2":-0.65,"y":-0.65,"y2":-0.6,"v":0.88},
{"x":-0.6,"x2":-0.55,"y":-0.65,"y2":-0.6,"v":0.9},{"x":-0.65,"x2":-0.6,"y":-0.6,"y2":-0.55,"v":0.9},
{"x":-0.55,"x2":-0.5,"y":-0.6,"y2":-0.55,"v":0.91},{"x":-0.6,"x2":-0.55,"y":-0.55,"y2":-0.5,"v":0.91},
{"x":-0.5,"x2":-0.45,"y":-0.55,"y2":-0.5,"v":0.92},{"x":-0.55,"x2":-0.5,"y":-0.5,"y2":-0.45,"v":0.92},
{"x":-0.45,"x2":-0.4,"y":-0.5,"y2":-0.45,"v":0.92},{"x":-0.5,"x2":-0.45,"y":-0.45,"y2":-0.4,"v":0.92},
{"x":-0.4,"x2":-0.35,"y":-0.45,"y2":-0.4,"v":0.93},{"x":-0.45,"x2":-0.4,"y":-0.4,"y2":-0.35,"v":0.93},
{"x":-0.35,"x2":-0.3,"y":-0.4,"y2":-0.35,"v":0.93},{"x":-0.4,"x2":-0.35,"y":-0.35,"y2":-0.3,"v":0.93},
{"x":-0.3,"x2":-0.25,"y":-0.35,"y2":-0.3,"v":0.94},{"x":-0.35,"x2":-0.3,"y":-0.3,"y2":-0.25,"v":0.94},
{"x":-0.25,"x2":-0.2,"y":-0.3,"y2":-0.25,"v":0.94},{"x":-0.3,"x2":-0.25,"y":-0.25,"y2":-0.2,"v":0.94},
{"x":-0.2,"x2":-0.15,"y":-0.25,"y2":-0.2,"v":0.95},{"x":-0.25,"x2":-0.2,"y":-0.2,"y2":-0.15,"v":0.95},
{"x":-0.15,"x2":-0.1,"y":-0.2,"y2":-0.15,"v":0.95},{"x":-0.2,"x2":-0.15,"y":-0.15,"y2":-0.1,"v":0.95},
{"x":-0.1,"x2":-0.05,"y":-0.15,"y2":-0.1,"v":0.95},{"x":-0.15,"x2":-0.1,"y":-0.1,"y2":-0.05,"v":0.95},
{"x":-0.05,"x2":0,"y":-0.1,"y2":-0.05,"v":0.96},{"x":-0.1,"x2":-0.05,"y":-0.05,"y2":0,"v":0.96},
{"x":-0.9,"x2":-0.85,"y":-1,"y2":-0.95,"v":0.09},{"x":-1,"x2":-0.95,"y":-0.9,"y2":-0.85,"v":0.09},
{"x":-0.85,"x2":-0.8,"y":-0.95,"y2":-0.9,"v":0.24},{"x":-0.95,"x2":-0.9,"y":-0.85,"y2":-0.8,"v":0.24},
{"x":-0.8,"x2":-0.75,"y":-0.9,"y2":-0.85,"v":0.36},{"x":-0.9,"x2":-0.85,"y":-0.8,"y2":-0.75,"v":0.36},
{"x":-0.75,"x2":-0.7,"y":-0.85,"y2":-0.8,"v":0.45},{"x":-0.85,"x2":-0.8,"y":-0.75,"y2":-0.7,"v":0.45},
{"x":-0.7,"x2":-0.65,"y":-0.8,"y2":-0.75,"v":0.53},{"x":-0.8,"x2":-0.75,"y":-0.7,"y2":-0.65,"v":0.53},
{"x":-0.65,"x2":-0.6,"y":-0.75,"y2":-0.7,"v":0.58},{"x":-0.75,"x2":-0.7,"y":-0.65,"y2":-0.6,"v":0.58},
{"x":-0.6,"x2":-0.55,"y":-0.7,"y2":-0.65,"v":0.62},{"x":-0.7,"x2":-0.65,"y":-0.6,"y2":-0.55,"v":0.62},
{"x":-0.55,"x2":-0.5,"y":-0.65,"y2":-0.6,"v":0.66},{"x":-0.65,"x2":-0.6,"y":-0.55,"y2":-0.5,"v":0.66},
{"x":-0.5,"x2":-0.45,"y":-0.6,"y2":-0.55,"v":0.69},{"x":-0.6,"x2":-0.55,"y":-0.5,"y2":-0.45,"v":0.69},
{"x":-0.45,"x2":-0.4,"y":-0.55,"y2":-0.5,"v":0.71},{"x":-0.55,"x2":-0.5,"y":-0.45,"y2":-0.4,"v":0.71},
{"x":-0.4,"x2":-0.35,"y":-0.5,"y2":-0.45,"v":0.74},{"x":-0.5,"x2":-0.45,"y":-0.4,"y2":-0.35,"v":0.74},
{"x":-0.35,"x2":-0.3,"y":-0.45,"y2":-0.4,"v":0.75},{"x":-0.45,"x2":-0.4,"y":-0.35,"y2":-0.3,"v":0.75},
{"x":-0.3,"x2":-0.25,"y":-0.4,"y2":-0.35,"v":0.77},{"x":-0.4,"x2":-0.35,"y":-0.3,"y2":-0.25,"v":0.77},
{"x":-0.25,"x2":-0.2,"y":-0.35,"y2":-0.3,"v":0.78},{"x":-0.35,"x2":-0.3,"y":-0.25,"y2":-0.2,"v":0.78},
{"x":-0.2,"x2":-0.15,"y":-0.3,"y2":-0.25,"v":0.8},{"x":-0.3,"x2":-0.25,"y":-0.2,"y2":-0.15,"v":0.8},
{"x":-0.15,"x2":-0.1,"y":-0.25,"y2":-0.2,"v":0.81},{"x":-0.25,"x2":-0.2,"y":-0.15,"y2":-0.1,"v":0.81},
{"x":-0.1,"x2":-0.05,"y":-0.2,"y2":-0.15,"v":0.82},{"x":-0.2,"x2":-0.15,"y":-0.1,"y2":-0.05,"v":0.82},
{"x":-0.05,"x2":0,"y":-0.15,"y2":-0.1,"v":0.83},{"x":-0.15,"x2":-0.1,"y":-0.05,"y2":0,"v":0.83},
{"x":-0.75,"x2":-0.7,"y":-0.9,"y2":-0.85,"v":0.14},{"x":-0.9,"x2":-0.85,"y":-0.75,"y2":-0.7,"v":0.14},
{"x":-0.7,"x2":-0.65,"y":-0.85,"y2":-0.8,"v":0.2},{"x":-0.85,"x2":-0.8,"y":-0.7,"y2":-0.65,"v":0.2},
{"x":-0.65,"x2":-0.6,"y":-0.8,"y2":-0.75,"v":0.27},{"x":-0.8,"x2":-0.75,"y":-0.65,"y2":-0.6,"v":0.27},
{"x":-0.6,"x2":-0.55,"y":-0.75,"y2":-0.7,"v":0.32},{"x":-0.75,"x2":-0.7,"y":-0.6,"y2":-0.55,"v":0.32},
{"x":-0.55,"x2":-0.5,"y":-0.7,"y2":-0.65,"v":0.37},{"x":-0.7,"x2":-0.65,"y":-0.55,"y2":-0.5,"v":0.37},
{"x":-0.5,"x2":-0.45,"y":-0.65,"y2":-0.6,"v":0.41},{"x":-0.65,"x2":-0.6,"y":-0.5,"y2":-0.45,"v":0.41},
{"x":-0.45,"x2":-0.4,"y":-0.6,"y2":-0.55,"v":0.45},{"x":-0.6,"x2":-0.55,"y":-0.45,"y2":-0.4,"v":0.45},
{"x":-0.4,"x2":-0.35,"y":-0.55,"y2":-0.5,"v":0.48},{"x":-0.55,"x2":-0.5,"y":-0.4,"y2":-0.35,"v":0.48},
{"x":-0.35,"x2":-0.3,"y":-0.5,"y2":-0.45,"v":0.51},{"x":-0.5,"x2":-0.45,"y":-0.35,"y2":-0.3,"v":0.51},
{"x":-0.3,"x2":-0.25,"y":-0.45,"y2":-0.4,"v":0.54},{"x":-0.45,"x2":-0.4,"y":-0.3,"y2":-0.25,"v":0.54},
{"x":-0.25,"x2":-0.2,"y":-0.4,"y2":-0.35,"v":0.57},{"x":-0.4,"x2":-0.35,"y":-0.25,"y2":-0.2,"v":0.57},
{"x":-0.2,"x2":-0.15,"y":-0.35,"y2":-0.3,"v":0.59},{"x":-0.35,"x2":-0.3,"y":-0.2,"y2":-0.15,"v":0.59},
{"x":-0.15,"x2":-0.1,"y":-0.3,"y2":-0.25,"v":0.61},{"x":-0.3,"x2":-0.25,"y":-0.15,"y2":-0.1,"v":0.61},
{"x":-0.1,"x2":-0.05,"y":-0.25,"y2":-0.2,"v":0.63},{"x":-0.25,"x2":-0.2,"y":-0.1,"y2":-0.05,"v":0.63},
{"x":-0.05,"x2":0,"y":-0.2,"y2":-0.15,"v":0.64},{"x":-0.2,"x2":-0.15,"y":-0.05,"y2":0,"v":0.64},
{"x":-0.6,"x2":-0.55,"y":-0.8,"y2":-0.75,"v":0.11},{"x":-0.8,"x2":-0.75,"y":-0.6,"y2":-0.55,"v":0.11},
{"x":-0.55,"x2":-0.5,"y":-0.75,"y2":-0.7,"v":0.15},{"x":-0.75,"x2":-0.7,"y":-0.55,"y2":-0.5,"v":0.15},
{"x":-0.5,"x2":-0.45,"y":-0.7,"y2":-0.65,"v":0.19},{"x":-0.7,"x2":-0.65,"y":-0.5,"y2":-0.45,"v":0.19},
{"x":-0.45,"x2":-0.4,"y":-0.65,"y2":-0.6,"v":0.23},{"x":-0.65,"x2":-0.6,"y":-0.45,"y2":-0.4,"v":0.23},
{"x":-0.4,"x2":-0.35,"y":-0.6,"y2":-0.55,"v":0.26},{"x":-0.6,"x2":-0.55,"y":-0.4,"y2":-0.35,"v":0.26},
{"x":-0.35,"x2":-0.3,"y":-0.55,"y2":-0.5,"v":0.29},{"x":-0.55,"x2":-0.5,"y":-0.35,"y2":-0.3,"v":0.29},
{"x":-0.3,"x2":-0.25,"y":-0.5,"y2":-0.45,"v":0.32},{"x":-0.5,"x2":-0.45,"y":-0.3,"y2":-0.25,"v":0.32},
{"x":-0.25,"x2":-0.2,"y":-0.45,"y2":-0.4,"v":0.35},{"x":-0.45,"x2":-0.4,"y":-0.25,"y2":-0.2,"v":0.35},
{"x":-0.2,"x2":-0.15,"y":-0.4,"y2":-0.35,"v":0.38},{"x":-0.4,"x2":-0.35,"y":-0.2,"y2":-0.15,"v":0.38},
{"x":-0.15,"x2":-0.1,"y":-0.35,"y2":-0.3,"v":0.4},{"x":-0.35,"x2":-0.3,"y":-0.15,"y2":-0.1,"v":0.4},
{"x":-0.1,"x2":-0.05,"y":-0.3,"y2":-0.25,"v":0.42},{"x":-0.3,"x2":-0.25,"y":-0.1,"y2":-0.05,"v":0.42},
{"x":-0.05,"x2":0,"y":-0.25,"y2":-0.2,"v":0.45},{"x":-0.25,"x2":-0.2,"y":-0.05,"y2":0,"v":0.45},
{"x":-0.45,"x2":-0.4,"y":-0.7,"y2":-0.65,"v":0.09},{"x":-0.7,"x2":-0.65,"y":-0.45,"y2":-0.4,"v":0.09},
{"x":-0.4,"x2":-0.35,"y":-0.65,"y2":-0.6,"v":0.11},{"x":-0.65,"x2":-0.6,"y":-0.4,"y2":-0.35,"v":0.11},
{"x":-0.35,"x2":-0.3,"y":-0.6,"y2":-0.55,"v":0.13},{"x":-0.6,"x2":-0.55,"y":-0.35,"y2":-0.3,"v":0.13},
{"x":-0.3,"x2":-0.25,"y":-0.55,"y2":-0.5,"v":0.16},{"x":-0.55,"x2":-0.5,"y":-0.3,"y2":-0.25,"v":0.16},
{"x":-0.25,"x2":-0.2,"y":-0.5,"y2":-0.45,"v":0.18},{"x":-0.5,"x2":-0.45,"y":-0.25,"y2":-0.2,"v":0.18},
{"x":-0.2,"x2":-0.15,"y":-0.45,"y2":-0.4,"v":0.21},{"x":-0.45,"x2":-0.4,"y":-0.2,"y2":-0.15,"v":0.21},
{"x":-0.15,"x2":-0.1,"y":-0.4,"y2":-0.35,"v":0.23},{"x":-0.4,"x2":-0.35,"y":-0.15,"y2":-0.1,"v":0.23},
{"x":-0.1,"x2":-0.05,"y":-0.35,"y2":-0.3,"v":0.25},{"x":-0.35,"x2":-0.3,"y":-0.1,"y2":-0.05,"v":0.25},
{"x":-0.05,"x2":0,"y":-0.3,"y2":-0.25,"v":0.27},{"x":-0.3,"x2":-0.25,"y":-0.05,"y2":0,"v":0.27},
{"x":-0.25,"x2":-0.2,"y":-0.55,"y2":-0.5,"v":0.08},{"x":-0.55,"x2":-0.5,"y":-0.25,"y2":-0.2,"v":0.08},
{"x":-0.2,"x2":-0.15,"y":-0.5,"y2":-0.45,"v":0.09},{"x":-0.5,"x2":-0.45,"y":-0.2,"y2":-0.15,"v":0.09},
{"x":-0.15,"x2":-0.1,"y":-0.45,"y2":-0.4,"v":0.11},{"x":-0.45,"x2":-0.4,"y":-0.15,"y2":-0.1,"v":0.11},
{"x":-0.1,"x2":-0.05,"y":-0.4,"y2":-0.35,"v":0.13},{"x":-0.4,"x2":-0.35,"y":-0.1,"y2":-0.05,"v":0.13},
{"x":-0.05,"x2":0,"y":-0.35,"y2":-0.3,"v":0.15},{"x":-0.35,"x2":-0.3,"y":-0.05,"y2":0,"v":0.15}]
},
"vconcat":[
{"hconcat":[
 {"title":{"text":"a","anchor":"start","fontSize":23,"fontWeight":"bold","color":"#111","offset":0,"dx":-33},"resolve":{"scale":{"color":"independent"}},
  "vconcat":[{"title":{"text":"Mean PSTH","orient":"left","fontSize":17,"offset":30,"dx":27},"resolve":{"scale":{"color":"independent"}},
   "vconcat":[{"title":{"text":"Ramps","fontSize":17,"frame":"group","offset":35,"dx":5},"width":227,"height":53,"data":{"name":"pa"},"mark":{"type":"line","color":"#0072bd","strokeWidth":1.8},
    "encoding":{"x":{"field":"t","type":"quantitative","scale":{"domain":[-1,0],"nice":false},"axis":{"values":[-1,-0.8,-0.6,-0.4,-0.2,0],"labelExpr":"toString(datum.value)","title":"Time to go cue (s)","tickSize":3,"labelPadding":0,"titlePadding":10}},
     "y":{"field":"v","type":"quantitative","scale":{"domain":[0,15],"nice":false},"axis":{"values":[0,5,10,15],"title":"Spikes per s","tickSize":4,"labelPadding":5,"titlePadding":3}}}}]}]},
 {"title":{"text":"b","anchor":"start","fontSize":23,"fontWeight":"bold","color":"#111","offset":0,"dx":-17},"resolve":{"scale":{"color":"independent"}},
  "vconcat":[{"title":{"text":"Sequences","fontSize":17,"frame":"group","offset":35,"dx":2.5},"width":227,"height":53,"data":{"name":"pb"},"mark":{"type":"line","color":"#0072bd","strokeWidth":1.8},
    "encoding":{"x":{"field":"t","type":"quantitative","scale":{"domain":[-1,0],"nice":false},"axis":{"values":[-1,-0.8,-0.6,-0.4,-0.2,0],"labelExpr":"toString(datum.value)","title":"Time to go cue (s)","tickSize":3,"labelPadding":0,"titlePadding":10}},
     "y":{"field":"v","type":"quantitative","scale":{"domain":[0,15],"nice":false},"axis":{"values":[0,5,10,15],"title":"Spikes per s","tickSize":4,"labelPadding":5,"titlePadding":3}}}}]}
],"spacing":36,"resolve":{"scale":{"color":"independent"}}},
{"hconcat":[
 {"title":{"text":"c","anchor":"start","fontSize":23,"fontWeight":"bold","color":"#111","offset":11,"dx":-35.5},"resolve":{"scale":{"color":"independent"}},
  "vconcat":[{"title":{"text":"Indv. neurons","orient":"left","fontSize":13,"offset":32,"dx":30.5},"resolve":{"scale":{"color":"independent"}},
   "vconcat":[{"width":227,"height":55,"data":{"name":"pc"},"mark":{"type":"line","strokeWidth":1.1},
    "encoding":{"x":{"field":"t","type":"quantitative","scale":{"domain":[-1,0],"nice":false},"axis":{"values":[-1,-0.8,-0.6,-0.4,-0.2,0],"labelExpr":"toString(datum.value)","title":"Time to go cue (s)","tickSize":3,"labelPadding":7,"titlePadding":0}},
     "y":{"field":"v","type":"quantitative","scale":{"domain":[0,36.7],"nice":false},"axis":{"values":[0,10,20,30],"title":"Spikes per s","titleFontSize":10.5,"tickSize":4,"labelPadding":5,"titlePadding":3}},
     "color":{"field":"n","type":"nominal","scale":{"domain":[0,1,2,3,4,5,6,7,8,9,10,11,12],"range":["#0000b3","#0000f0","#002eff","#006bff","#00a8ff","#00e6ff","#24ffdb","#61ff9e","#9eff61","#dbff24","#ffe600","#ffa800","#ff6b00"]},"legend":null}}}]}]},
 {"title":{"text":"d","anchor":"start","fontSize":23,"fontWeight":"bold","color":"#111","offset":27,"dx":-14.2},"resolve":{"scale":{"color":"independent"}},
  "vconcat":[{"width":227,"height":55,"data":{"name":"pd"},"mark":{"type":"line","strokeWidth":1.3},
    "encoding":{"x":{"field":"t","type":"quantitative","scale":{"domain":[-1,0],"nice":false},"axis":{"values":[-1,-0.8,-0.6,-0.4,-0.2,0],"labelExpr":"toString(datum.value)","title":"Time to go cue (s)","tickSize":3,"labelPadding":7,"titlePadding":0}},
     "y":{"field":"v","type":"quantitative","scale":{"domain":[0,59],"nice":false},"axis":{"values":[0,20,40],"title":"Spikes per s","titleFontSize":11,"tickSize":4,"labelPadding":5,"titlePadding":3}},
     "color":{"field":"n","type":"nominal","scale":{"domain":[1,2,3,4,5,6,7,8,9,10],"range":["#0000aa","#0000ff","#0055ff","#00aaff","#00ffff","#55ffaa","#aaff55","#ffff00","#ffaa00","#ff5500"]},"legend":null}}}]}
],"spacing":37.7,"resolve":{"scale":{"color":"independent"}}},
{"hconcat":[
 {"title":{"text":["","e"],"anchor":"start","fontSize":23,"lineHeight":15,"fontWeight":"bold","color":"#111","offset":3.5,"dx":-21.6},"resolve":{"scale":{"color":"independent"}},
  "vconcat":[{"title":{"text":["Rank correlation of activity","(Related to Fig. 14)"],"orient":"left","fontSize":17,"lineHeight":23,"offset":18.5,"dx":15},"resolve":{"scale":{"color":"independent"}},
   "vconcat":[{"width":175,"height":160,"layer":[
    {"data":{"name":"he"},"mark":{"type":"rect"},"encoding":{
     "x":{"field":"x","type":"quantitative","scale":{"domain":[-1,0],"nice":false,"range":[6,175]},"axis":{"values":[-1,-0.5,0],"labelExpr":"toString(datum.value)","title":"Time to go cue (s)","tickSize":3,"labelPadding":5,"titlePadding":0,"zindex":1}},
     "x2":{"field":"x2"},
     "y":{"field":"y","type":"quantitative","scale":{"domain":[-1,0],"nice":false,"reverse":true},"axis":{"values":[-1,-0.5,0],"labelExpr":"toString(datum.value)","title":"Time (s)","tickSize":3,"labelPadding":2,"titlePadding":7,"offset":-6,"zindex":1}},
     "y2":{"field":"y2"},
     "color":{"field":"v","type":"quantitative","scale":{"type":"linear","domain":[0,0.125,0.375,0.625,0.875,1],"range":["#000080","#0000ff","#00ffff","#ffff00","#ff0000","#800000"],"interpolate":"rgb","clamp":true},
      "legend":{"type":"gradient","direction":"vertical","orient":"right","offset":11,"gradientLength":160,"gradientThickness":22,"gradientStrokeColor":"#333","gradientStrokeWidth":0.8,"values":[0,0.2,0.4,0.6,0.8,1],"labelExpr":"toString(datum.value)","labelFontSize":13,"labelColor":"#333","labelOffset":3,"title":null,"padding":0,"labelOverlap":false}}}},
    {"data":{"name":"diag"},"mark":{"type":"line","color":"#800000","strokeWidth":1.2},"encoding":{"x":{"field":"x","type":"quantitative"},"y":{"field":"y","type":"quantitative"}}}]}]}]},
 {"title":{"text":"f","anchor":"start","fontSize":23,"fontWeight":"bold","color":"#111","offset":14,"dx":-11.1},"resolve":{"scale":{"color":"independent"}},
  "vconcat":[{"width":169,"height":160,"layer":[
    {"data":{"name":"hf"},"mark":{"type":"rect"},"encoding":{
     "x":{"field":"x","type":"quantitative","scale":{"domain":[-1,0],"nice":false},"axis":{"values":[-1,-0.5,0],"labelExpr":"toString(datum.value)","title":"Time to go cue (s)","tickSize":3,"labelPadding":5,"titlePadding":0,"zindex":1}},
     "x2":{"field":"x2"},
     "y":{"field":"y","type":"quantitative","scale":{"domain":[-1,0],"nice":false,"reverse":true},"axis":{"values":[-1,-0.5,0],"labelExpr":"toString(datum.value)","title":"Time (s)","tickSize":3,"labelPadding":2,"titlePadding":7,"zindex":1}},
     "y2":{"field":"y2"},
     "color":{"field":"v","type":"quantitative","scale":{"type":"linear","domain":[0,0.125,0.375,0.625,0.875,1],"range":["#000080","#0000ff","#00ffff","#ffff00","#ff0000","#800000"],"interpolate":"rgb","clamp":true},
      "legend":{"type":"gradient","direction":"vertical","orient":"right","offset":13,"gradientLength":160,"gradientThickness":22,"gradientStrokeColor":"#333","gradientStrokeWidth":0.8,"values":[0,0.2,0.4,0.6,0.8,1],"labelExpr":"toString(datum.value)","labelFontSize":13,"labelColor":"#333","labelOffset":3,"title":null,"padding":0,"labelOverlap":false}}}},
    {"data":{"name":"diag"},"mark":{"type":"line","color":"#700000","strokeWidth":1.2,"strokeDash":[2,2]},"encoding":{"x":{"field":"x","type":"quantitative"},"y":{"field":"y","type":"quantitative"}}}]}]}
],"spacing":37.9,"resolve":{"scale":{"color":"independent"}}},
{"hconcat":[
 {"title":{"text":["","g"],"anchor":"start","fontSize":23,"lineHeight":11,"fontWeight":"bold","color":"#111","offset":7,"dx":-21.6},"resolve":{"scale":{"color":"independent"}},
  "vconcat":[{"title":{"text":["Correlation of CD over time","(Related to Fig. 15)"],"orient":"left","fontSize":17,"lineHeight":23,"offset":18.5,"dx":13},"resolve":{"scale":{"color":"independent"}},
   "vconcat":[{"width":175,"height":160,"layer":[
    {"data":{"name":"hg"},"mark":{"type":"rect"},"encoding":{
     "x":{"field":"x","type":"quantitative","scale":{"domain":[-1,0],"nice":false,"range":[6,175]},"axis":{"values":[-1,-0.5,0],"labelExpr":"toString(datum.value)","title":"Time to go cue (s)","tickSize":3,"labelPadding":5,"titlePadding":0,"zindex":1}},
     "x2":{"field":"x2"},
     "y":{"field":"y","type":"quantitative","scale":{"domain":[-1,0],"nice":false,"reverse":true},"axis":{"values":[-1,-0.5,0],"labelExpr":"toString(datum.value)","title":"Time (s)","tickSize":3,"labelPadding":2,"titlePadding":7,"offset":-6,"zindex":1}},
     "y2":{"field":"y2"},
     "color":{"field":"v","type":"quantitative","scale":{"type":"linear","domain":[0,0.125,0.375,0.625,0.875,1],"range":["#000080","#0000ff","#00ffff","#ffff00","#ff0000","#800000"],"interpolate":"rgb","clamp":true},
      "legend":{"type":"gradient","direction":"vertical","orient":"right","offset":11,"gradientLength":160,"gradientThickness":22,"gradientStrokeColor":"#333","gradientStrokeWidth":0.8,"values":[0,0.2,0.4,0.6,0.8,1],"labelExpr":"toString(datum.value)","labelFontSize":13,"labelColor":"#333","labelOffset":3,"title":null,"padding":0,"labelOverlap":false}}}},
    {"data":{"name":"diag"},"mark":{"type":"line","color":"#8a1a10","strokeWidth":1.2},"encoding":{"x":{"field":"x","type":"quantitative"},"y":{"field":"y","type":"quantitative"}}}]}]}]},
 {"title":{"text":"h","anchor":"start","fontSize":23,"fontWeight":"bold","color":"#111","offset":19,"dx":-16.1},"resolve":{"scale":{"color":"independent"}},
  "vconcat":[{"width":169,"height":160,"data":{"name":"hh"},"mark":{"type":"rect"},"encoding":{
     "x":{"field":"x","type":"quantitative","scale":{"domain":[-1,0],"nice":false},"axis":{"values":[-1,-0.5,0],"labelExpr":"toString(datum.value)","title":"Time to go cue (s)","tickSize":3,"labelPadding":5,"titlePadding":0,"zindex":1}},
     "x2":{"field":"x2"},
     "y":{"field":"y","type":"quantitative","scale":{"domain":[-1,0],"nice":false,"reverse":true},"axis":{"values":[-1,-0.5,0],"labelExpr":"toString(datum.value)","title":"Time (s)","tickSize":3,"labelPadding":2,"titlePadding":7,"zindex":1}},
     "y2":{"field":"y2"},
     "color":{"field":"v","type":"quantitative","scale":{"type":"linear","domain":[0,0.125,0.375,0.625,0.875,1],"range":["#000080","#0000ff","#00ffff","#ffff00","#ff0000","#800000"],"interpolate":"rgb","clamp":true},
      "legend":{"type":"gradient","direction":"vertical","orient":"right","offset":13,"gradientLength":160,"gradientThickness":22,"gradientStrokeColor":"#333","gradientStrokeWidth":0.8,"values":[0,0.2,0.4,0.6,0.8,1],"labelExpr":"toString(datum.value)","labelFontSize":13,"labelColor":"#333","labelOffset":3,"title":null,"padding":0,"labelOverlap":false}}}}]}
],"spacing":32,"resolve":{"scale":{"color":"independent"}}}
],
"spacing":2,
"resolve":{"scale":{"color":"independent"}}
}
